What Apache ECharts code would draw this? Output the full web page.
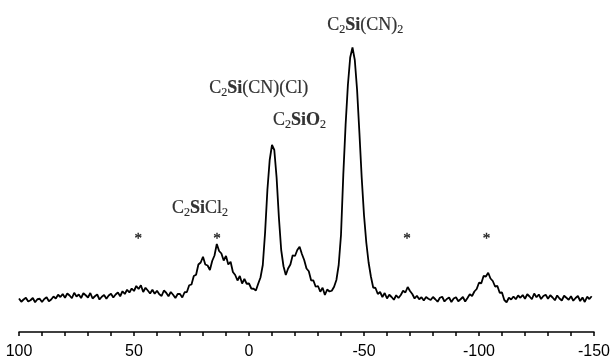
<!DOCTYPE html>
<html>
<head>
<meta charset="utf-8">
<script src="https://cdn.jsdelivr.net/npm/echarts@6/dist/echarts.min.js"></script>
<style>
  html, body { margin: 0; padding: 0; background: #fff; }
  #chart { width: 613px; height: 362px; }
</style>
</head>
<body>
<div id="chart"></div>
<script>
// chemical shift grid: first point, step (ppm)
const shiftStart = 100;
const shiftStep = -1;

// intensity, one value per ppm from 100 to -149
const intensity = [
  0.6, -0.7, 0.2, 0.9, -0.6, -0.1, 0.8, -0.9, 0.3, 0.5,
  -0.8, 0.4, 1.1, -0.5, 0.2, 1.4, 0.6, 2.1, 1.2, 2.4,
  0.9, 2.6, 1.8, 0.7, 2.9, 1.4, 2.2, 0.8, 2.7, 1.9,
  1.0, 2.8, 0.6, 1.5, 2.2, 0.2, 1.3, 2.0, 0.5, 1.8,
  2.5, 1.0, 2.2, 3.0, 1.5, 3.5, 2.4, 4.1, 3.0, 4.6,
  3.6, 5.6, 4.4, 5.9, 3.2, 4.9, 3.8, 2.6, 4.1, 2.5,
  3.7, 2.3, 1.6, 3.8, 2.9, 1.5, 3.2, 2.1, 0.8, 2.4,
  2.4, 1.0, 3.1, 3.2, 5.9, 6.2, 9.6, 10.1, 14.2, 15.0,
  17.3, 14.2, 13.8, 12.0, 15.6, 17.8, 22.4, 19.6, 18.6, 15.8,
  17.6, 14.2, 15.3, 11.2, 10.0, 7.8, 9.6, 6.6, 8.4, 6.5,
  6.6, 4.6, 4.5, 3.8, 6.5, 9.0, 14.0, 27.0, 44.0, 56.0,
  62.0, 60.0, 49.0, 33.0, 20.0, 13.5, 10.0, 12.6, 14.2, 17.9,
  17.6, 20.0, 21.3, 18.4, 16.0, 12.6, 11.5, 7.9, 7.8, 5.3,
  5.6, 3.3, 4.9, 2.0, 4.2, 3.4, 3.7, 5.3, 8.0, 14.0,
  26.0, 50.0, 70.0, 86.0, 97.0, 101.0, 96.0, 84.0, 67.0, 49.0,
  34.0, 23.0, 15.0, 9.4, 5.0, 4.8, 2.4, 3.2, 1.2, 2.8,
  0.6, 2.1, 1.2, 0.1, 1.9, 0.8, 2.0, 3.7, 3.0, 5.2,
  3.6, 2.4, 0.6, 1.7, 0.3, 1.1, -0.2, 1.2, 0.5, 0.0,
  1.2, 0.3, -0.7, 0.9, 1.3, -0.6, 0.4, 1.0, -0.8, 0.6,
  1.1, -0.5, 0.3, 1.2, -0.6, 0.8, 2.3, 1.6, 3.4, 4.4,
  6.9, 6.7, 9.6, 9.4, 10.9, 8.6, 7.6, 5.4, 5.6, 2.9,
  3.0, 0.0, -0.9, 0.9, 0.2, 1.4, 0.3, 1.8, 0.9, 2.0,
  0.5, 2.3, 1.4, 0.3, 2.6, 1.1, 2.2, 0.4, 1.6, 2.1,
  0.5, 1.9, 1.0, -0.1, 1.8, 0.6, -0.2, 1.7, 0.9, 0.1,
  1.5, -0.3, 0.8, 1.6, -0.4, 1.0, -0.8, 1.3, 0.4, 1.5
];

// peak assignments
const peakNames = ["C2SiCl2", "C2Si(CN)(Cl)", "C2SiO2", "C2Si(CN)2"];
const peakLabels = [
  "C{sub|2}{b|Si}Cl{sub|2}",
  "C{sub|2}{b|Si}(CN)(Cl)",
  "C{sub|2}{b|SiO}{sub|2}",
  "C{sub|2}{b|Si}(CN){sub|2}"
];
const peakLabelShift = [21.3, -4.2, -22, -50.5];
const peakLabelHeight = [36.8, 84.8, 72, 110];

// spinning sidebands
const sidebandShift = [48.1, 13.9, -68.7, -103.3];
const sidebandHeight = [25.6, 25.6, 25.6, 25.6];

const xTicks = [100, 50, 0, -50, -100, -150];

const spectrum = intensity.map((v, i) => [shiftStart + shiftStep * i, v]);

const chart = echarts.init(document.getElementById("chart"));

const serif = "'Liberation Serif', 'Times New Roman', serif";

const option = {
  animation: false,
  backgroundColor: "#fff",
  grid: { left: 19, right: 16, top: 0, bottom: 30 },
  xAxis: {
    type: "value",
    inverse: true,
    min: xTicks[xTicks.length - 1],
    max: xTicks[0],
    interval: 50,
    splitLine: { show: false },
    axisLine: { onZero: false, lineStyle: { color: "#000", width: 1.5 } },
    axisTick: { show: true, length: 4, lineStyle: { color: "#000", width: 1.5 } },
    minorTick: { show: true, splitNumber: 5, length: 4, lineStyle: { color: "#000", width: 1.5 } },
    axisLabel: {
      color: "#000",
      fontFamily: "'Liberation Sans', Arial, sans-serif",
      fontSize: 16,
      margin: 12
    }
  },
  yAxis: {
    type: "value",
    show: false,
    min: -12.8,
    max: 120
  },
  series: [
    {
      name: "29Si",
      type: "line",
      data: spectrum,
      showSymbol: false,
      symbol: "none",
      lineStyle: { color: "#000", width: 1.8 }
    },
    {
      name: "assignments",
      type: "scatter",
      symbolSize: 0,
      clip: false,
      data: peakNames.map((n, i) => ({
        name: n,
        value: [peakLabelShift[i], peakLabelHeight[i]],
        label: { formatter: peakLabels[i] }
      })),
      label: {
        show: true,
        position: "inside",
        color: "#000",
        textBorderColor: "#000",
        textBorderWidth: 0.2,
        fontFamily: serif,
        fontSize: 18,
        rich: {
          b: { fontFamily: serif, fontWeight: "bold", fontSize: 18, color: "#000" },
          sub: { fontFamily: serif, fontSize: 12, color: "#000", padding: [9, 0, 0, 0] }
        }
      }
    },
    {
      name: "sidebands",
      type: "scatter",
      symbolSize: 0,
      clip: false,
      data: sidebandShift.map((s, i) => [s, sidebandHeight[i]]),
      label: {
        show: true,
        position: "inside",
        formatter: "*",
        color: "#000",
        textBorderColor: "#000",
        textBorderWidth: 0.4,
        fontFamily: serif,
        fontSize: 15,
        offset: [0, 3]
      }
    }
  ]
};

chart.setOption(option);

window.addEventListener("resize", () => {
  chart.resize();
});
</script>
</body>
</html>
